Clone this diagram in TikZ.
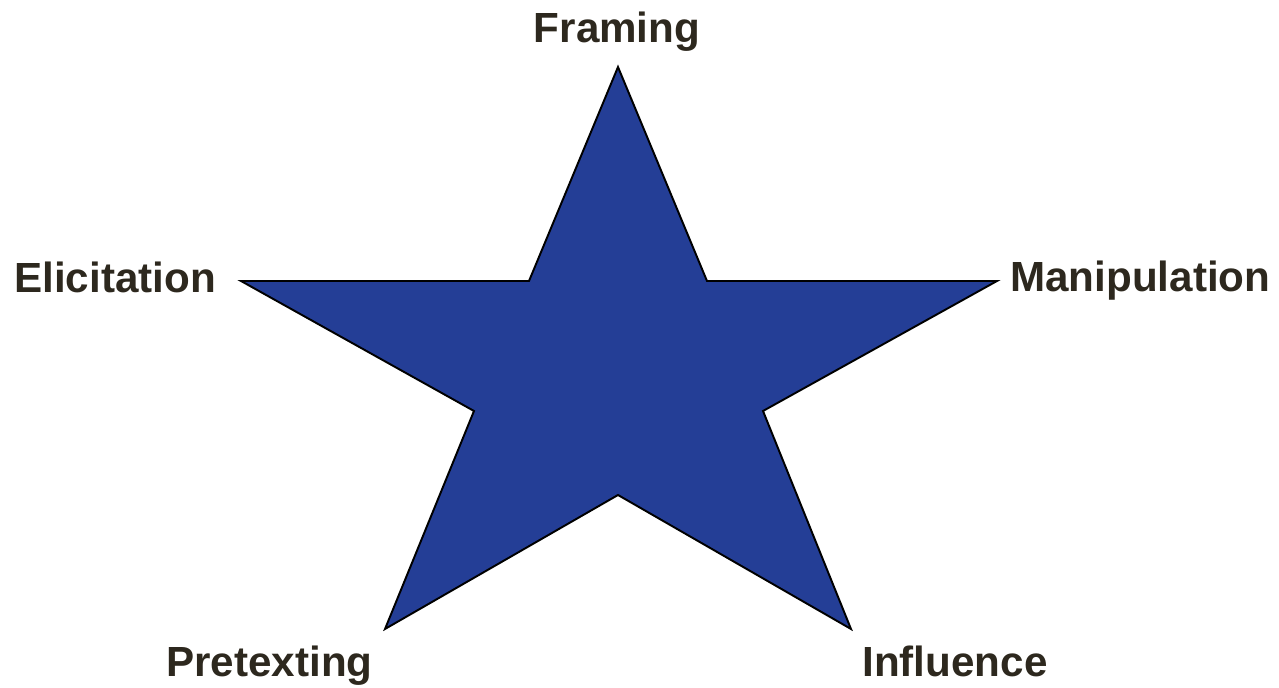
\documentclass[tikz,border=0pt]{standalone}
\usepackage{fontspec}
\setmainfont{Liberation Sans}
\usetikzlibrary{positioning}
\definecolor{cStar}{RGB}{36,62,150}
\definecolor{cText}{RGB}{45,40,30}
\tikzset{
	starfill/.style={fill=cStar, draw=black, line width=1.1pt, line join=miter},
	pointlabel/.style={anchor=base west, inner sep=0pt, font=\fontsize{24}{28}\selectfont\bfseries, text=cText},
}
\begin{document}
\begin{tikzpicture}[x=0.02cm, y=-0.02cm]
	\useasboundingbox (0,0) rectangle (1279,688);
	% outer points
	\coordinate (top) at (618,67);
	\coordinate (left) at (241,281);
	\coordinate (right) at (997,281);
	\coordinate (botleft) at (385,629);
	\coordinate (botright) at (851,629);
	% inner corners
	\coordinate (inTL) at (529,281);
	\coordinate (inTR) at (707,281);
	\coordinate (inL) at (474,411);
	\coordinate (inR) at (763,411);
	\coordinate (inB) at (618,495);
	\draw[starfill] (top) -- (inTR) -- (right) -- (inR) -- (botright) -- (inB)
		-- (botleft) -- (inL) -- (left) -- (inTL) -- cycle;
	% labels
	\node[pointlabel, anchor=base] (framing) at (617,43) {Framing};
	\node[pointlabel] (elicitation) at (14,293) {Elicitation};
	\node[pointlabel] (manipulation) at (1010,292) {Manipulation};
	\node[pointlabel] (pretexting) at (166,677) {Pretexting};
	\node[pointlabel] (influence) at (862,677) {Influence};
\end{tikzpicture}
\end{document}
